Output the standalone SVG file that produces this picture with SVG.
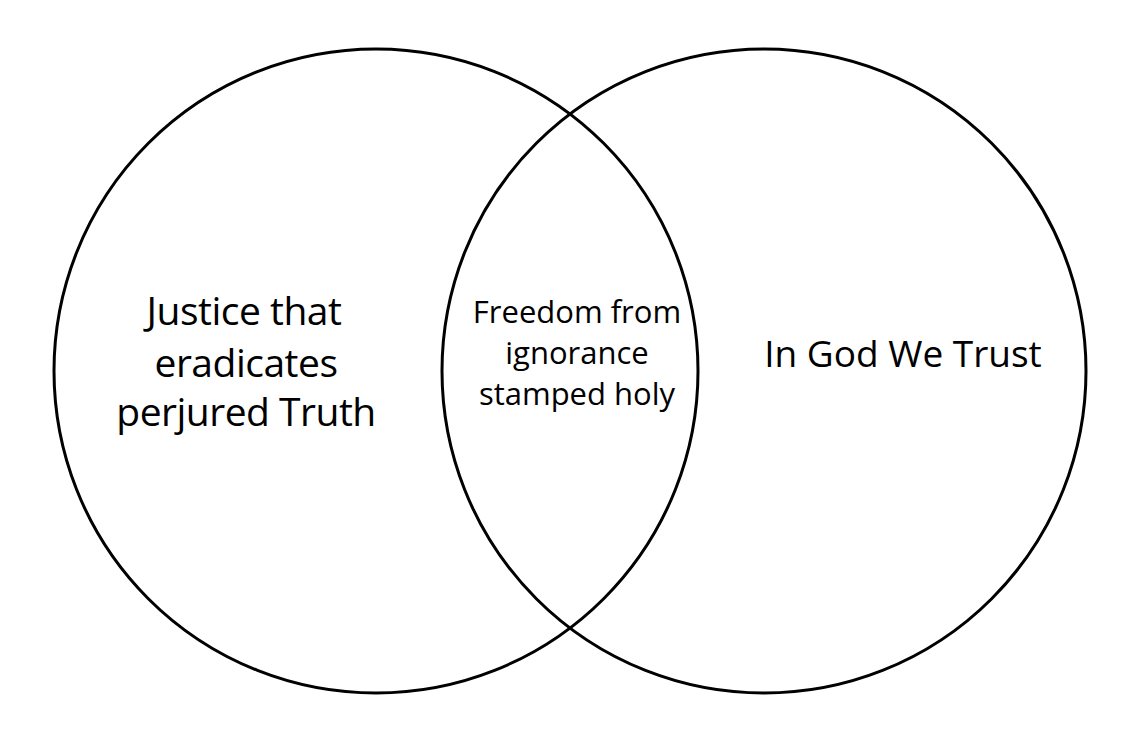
<svg xmlns="http://www.w3.org/2000/svg" width="1141" height="747" viewBox="0 0 1141 747">
<style>
.c{fill:none;stroke:#000;stroke-width:3}
.t{font-family:"Open Sans","Noto Sans","Liberation Sans",sans-serif;fill:#000;text-anchor:middle}
</style>
<rect width="1141" height="747" fill="#fff"/>
<g id="left">
<circle class="c" cx="376" cy="371" r="322"/>
<text class="t" font-size="39" letter-spacing="-0.5"><tspan x="244" y="325">Justice that</tspan><tspan x="246" y="377">eradicates</tspan><tspan x="246" y="426">perjured Truth</tspan></text>
</g>
<g id="right">
<circle class="c" cx="764" cy="371" r="322"/>
<text class="t" font-size="37" x="903" y="367">In God We Trust</text>
</g>
<g id="middle">
<text class="t" font-size="31"><tspan x="577" y="323">Freedom from</tspan><tspan x="577" y="364">ignorance</tspan><tspan x="577" y="405">stamped holy</tspan></text>
</g>
</svg>
